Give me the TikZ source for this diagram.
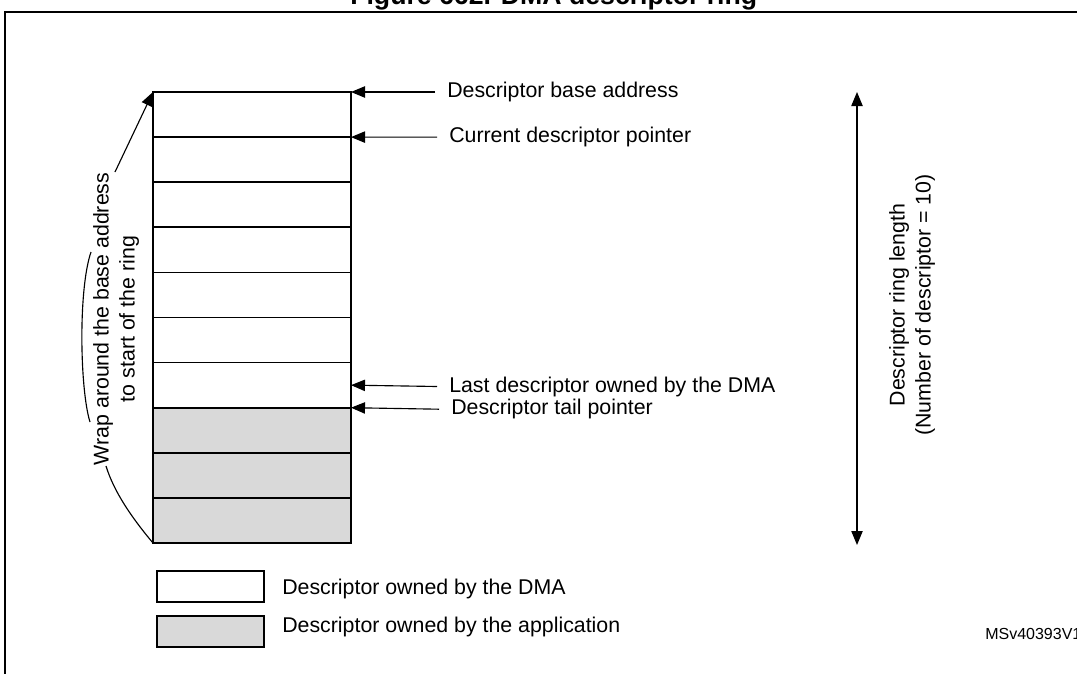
\documentclass[tikz,border=0pt]{standalone}
\usepackage{fontspec}
\setmainfont{Liberation Sans}
\usetikzlibrary{arrows.meta}
\definecolor{appgray}{RGB}{217,217,217}
\begin{document}
\begin{tikzpicture}[x=0.75pt,y=-0.75pt,
  row/.style={draw, line width=1.3pt, minimum width=148.5pt, minimum height=33.825pt, inner sep=0pt, outer sep=0pt},
  own/.style={row, fill=white},
  app/.style={row, fill=appgray},
  legbox/.style={minimum width=80.25pt, minimum height=23.25pt},
  txt/.style={font=\fontsize{16}{19.5}\selectfont, inner sep=0pt},
  lbl/.style={txt, inner xsep=9pt, anchor=west},
  tip/.style={Triangle[length=10.5pt,width=8.5pt]},
  arr/.style={line width=0.85pt, -{Triangle[length=10.5pt,width=8.5pt]}},
  darr/.style={line width=0.85pt, {Triangle[length=10.5pt,width=8.5pt]}-{Triangle[length=10.5pt,width=8.5pt]}},
  thin/.style={line width=0.85pt},
  frame/.style={line width=1.6pt}
]
\useasboundingbox (0,0) rectangle (1077,674);

% title and frame
\node[font=\bfseries\fontsize{20}{24}\selectfont, anchor=base west, inner sep=0pt] (title) at (350,5) {Figure 662. DMA descriptor ring};
\coordinate (fbl) at (5,680);
\coordinate (ftl) at (5,11.75);
\coordinate (ftr) at (1085,11.75);
\draw[frame] (fbl) -- (ftl) -- (ftr);

% ring rows
\foreach \i in {1,...,7} \node[own] (r\i) at (252,{92+45.1*(\i-0.5)}) {};
\foreach \i in {8,9,10} \node[app] (r\i) at (252,{92+45.1*(\i-0.5)}) {};

% pointer labels
\node[lbl] (l1) at (435,92) {Descriptor base address};
\node[lbl] (l2) at (437,137.1) {Current descriptor pointer};
\node[lbl] (l3) at (437,386.5) {Last descriptor owned by the DMA};
\node[lbl] (l4) at (439,409.2) {Descriptor tail pointer};
\draw[arr] (l1.west) -- (r1.north east);
\draw[arr] (l2.west) -- (r2.north east);
\draw[arr] (l3.west) -- (r7.east);
\draw[arr] (l4.west) -- (r8.north east);

% ring length
\coordinate (dtop) at (857,92);
\coordinate (dbot) at (857,545);
\draw[darr] (dtop) -- (dbot);
\node[txt, rotate=90, align=center] (len) at (912,305) {Descriptor ring length\\(Number of descriptor = 10)};

% wrap around
\node[txt, rotate=90, align=center] (wrap) at (116,319) {Wrap around the base address\\to start of the ring};
\coordinate (wA) at (106,466);
\coordinate (wB1) at (90,422);
\coordinate (wB2) at (91,252);
\coordinate (wC) at (115,172);
\draw[thin] (r10.south west) .. controls (132,518) and (114,492) .. (wA);
\draw[thin] (wB1) .. controls (80,390) and (78,290) .. (wB2);
\draw[arr] (wC) -- (r1.north west);

% legend
\node[own, legbox] (legdma) at (210.5,586.5) {};
\node[app, legbox] (legapp) at (210.5,631.5) {};
\node[txt, anchor=west] (tdma) at (282,589) {Descriptor owned by the DMA};
\node[txt, anchor=west] (tapp) at (282,627) {Descriptor owned by the application};

\node[font=\fontsize{12}{14}\selectfont, anchor=west, inner sep=0pt] (id) at (985,634) {MSv40393V1};
\end{tikzpicture}
\end{document}
